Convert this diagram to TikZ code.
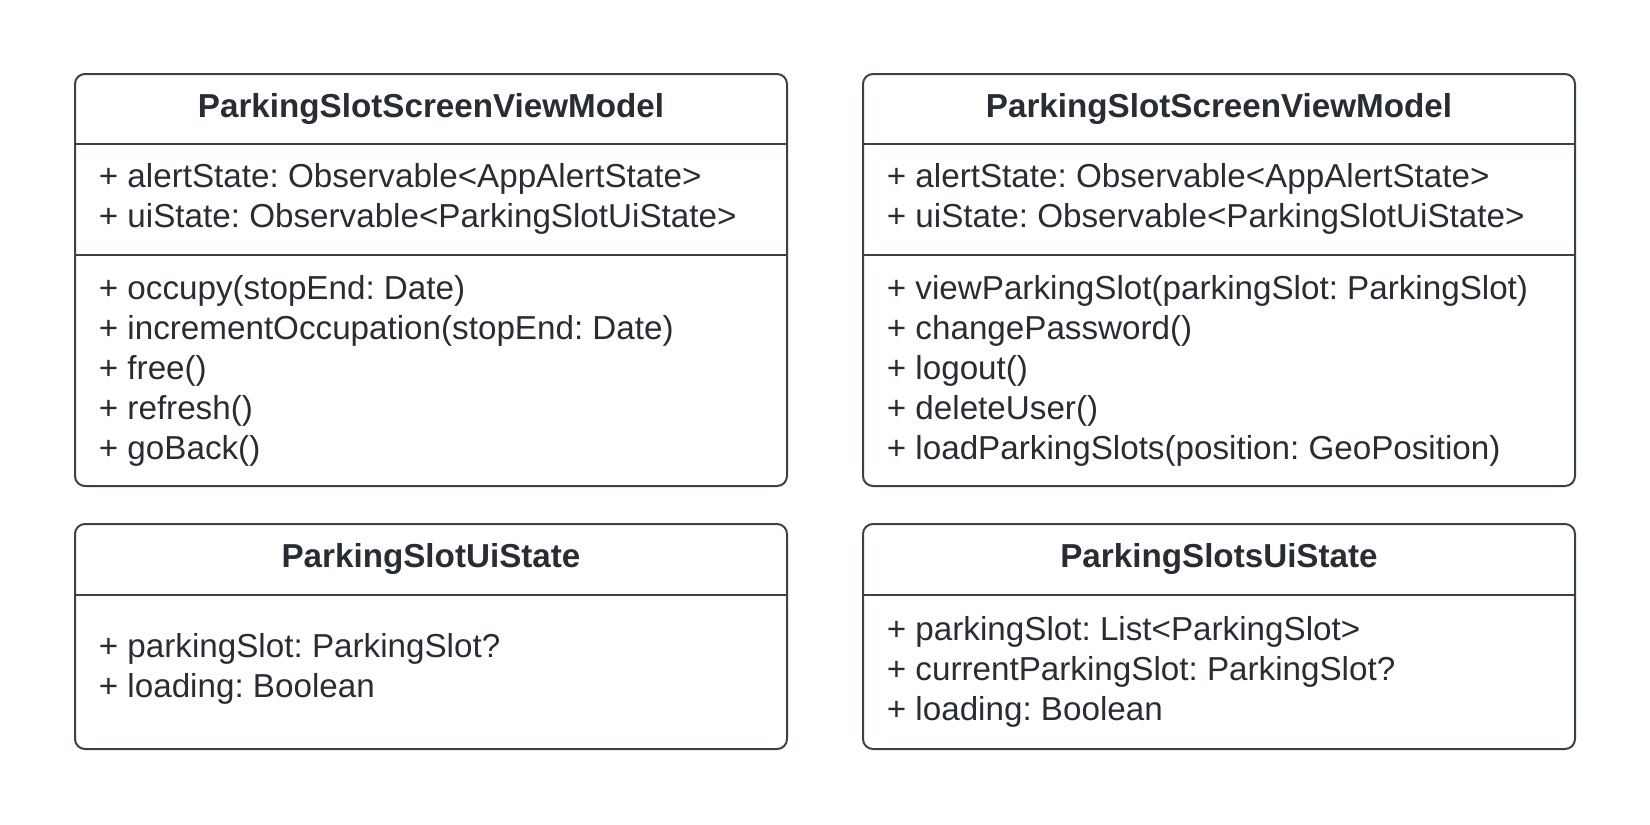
\documentclass[tikz,border=0pt]{standalone}
\usepackage{fontspec}
\setmainfont{Liberation Sans}
\frenchspacing
\definecolor{umlline}{HTML}{3A414A}
\definecolor{umltext}{HTML}{282C33}

\begin{document}
\begin{tikzpicture}[x=0.5pt,y=-0.5pt,
    classbox/.style={draw=umlline, line width=1pt, rounded corners=5pt,
      minimum width=356pt, inner sep=0pt},
    divider/.style={draw=umlline, line width=1pt},
    classname/.style={font=\fontsize{16.6}{20}\selectfont\bfseries,
      text=umltext, anchor=base, inner sep=0pt},
    member/.style={font=\fontsize{16.6}{20}\selectfont,
      text=umltext, anchor=base west, inner sep=0pt}]
  \useasboundingbox (0,0) rectangle (1650,825);

  % view models
  \node [classbox, minimum height=206pt] (vmSlot) at (431,280) {};
  \node [classbox, minimum height=206pt] (vmSlots) at (1219,280) {};
  \foreach \b in {vmSlot,vmSlots} {
    \draw [divider] (\b.west |- 0,144) -- (\b.east |- 0,144);
    \draw [divider] (\b.west |- 0,255) -- (\b.east |- 0,255);
  }
  \node [classname] (vmSlot-name) at (431,117) {ParkingSlotScreenViewModel};
  \node [classname] (vmSlots-name) at (1219,117) {ParkingSlotScreenViewModel};

  \foreach \txt [count=\i] in {+ alertState: Observable<AppAlertState>,
      + uiState: Observable<ParkingSlotUiState>}
    \node [member] (vmSlot-a\i) at (98.5,147+40*\i) {\txt};
  \foreach \txt [count=\i] in {+ alertState: Observable<AppAlertState>,
      + uiState: Observable<ParkingSlotUiState>}
    \node [member] (vmSlots-a\i) at (886.5,147+40*\i) {\txt};

  \foreach \txt [count=\i] in {+ occupy(stopEnd: Date),
      + incrementOccupation(stopEnd: Date), + free(), + refresh(), + goBack()}
    \node [member] (vmSlot-m\i) at (98.5,259+40*\i) {\txt};
  \foreach \txt [count=\i] in {+ viewParkingSlot(parkingSlot: ParkingSlot),
      + changePassword(), + logout(), + deleteUser(),
      + loadParkingSlots(position: GeoPosition)}
    \node [member] (vmSlots-m\i) at (886.5,259+40*\i) {\txt};

  % ui states
  \node [classbox, minimum height=112.5pt] (stSlot) at (431,636.5) {};
  \node [classbox, minimum height=112.5pt] (stSlots) at (1219,636.5) {};
  \foreach \b in {stSlot,stSlots}
    \draw [divider] (\b.west |- 0,595) -- (\b.east |- 0,595);
  \node [classname] (stSlot-name) at (431,567) {ParkingSlotUiState};
  \node [classname] (stSlots-name) at (1219,567) {ParkingSlotsUiState};

  \foreach \txt [count=\i] in {+ parkingSlot: ParkingSlot?, + loading: Boolean}
    \node [member] (stSlot-a\i) at (98.5,617+40*\i) {\txt};
  \foreach \txt [count=\i] in {+ parkingSlot: List<ParkingSlot>,
      + currentParkingSlot: ParkingSlot?, + loading: Boolean}
    \node [member] (stSlots-a\i) at (886.5,600+40*\i) {\txt};
\end{tikzpicture}
\end{document}
